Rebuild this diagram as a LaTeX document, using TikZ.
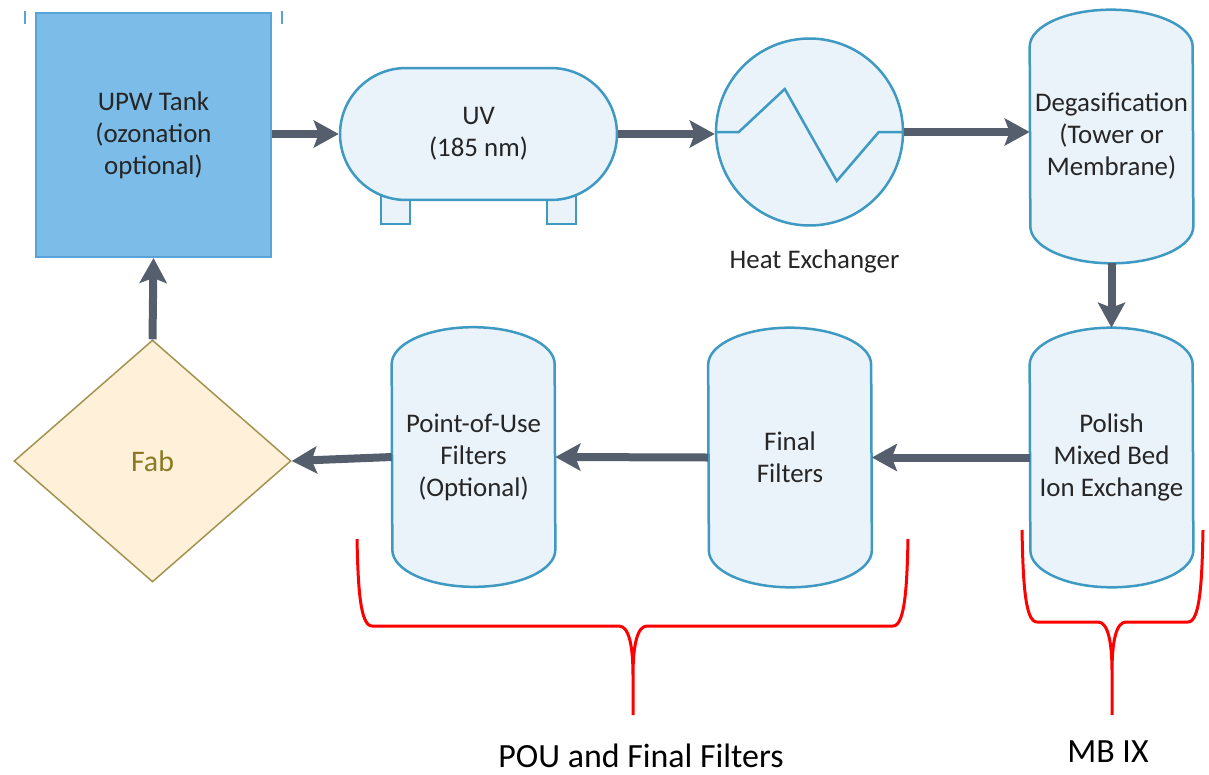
\documentclass[tikz,border=0pt]{standalone}
\usepackage{fontspec}
\setmainfont{Carlito}
\usetikzlibrary{arrows.meta,shapes.geometric,shapes.misc,positioning,calc,backgrounds}

\definecolor{tankfill}{HTML}{7BBDE8}
\definecolor{tankline}{HTML}{5AA3D8}
\definecolor{shellfill}{HTML}{EAF2FA}
\definecolor{shellline}{HTML}{3E9AC2}
\definecolor{fabfill}{HTML}{FEF0D9}
\definecolor{fabline}{HTML}{A39351}
\definecolor{fabtext}{HTML}{8B7A22}
\definecolor{pipe}{HTML}{555E6C}
\definecolor{bodytext}{HTML}{262626}

\tikzset{
  unit/.style={align=center,text=bodytext,font=\fontsize{15.3}{18.2}\selectfont,inner sep=0pt},
  tank/.style={unit,draw=tankline,fill=tankfill,line width=0.04cm,minimum width=4.7cm,minimum height=4.88cm},
  vessel/.style={unit,minimum width=3.26cm,minimum height=5.18cm},
  shell/.style={draw=shellline,fill=shellfill,line width=0.05cm},
  flow/.style={draw=pipe,line width=0.16cm,-{Stealth[length=0.5cm,width=0.54cm,inset=0.1cm]}},
  brace/.style={draw=red,line width=0.06cm},
  caption/.style={text=black,font=\fontsize{19.3}{23}\selectfont,inner sep=0pt}
}

\begin{document}
\begin{tikzpicture}[x=0.02cm,y=0.02cm]
\useasboundingbox (0,0) rectangle (1209,-774);

% top row
\node[tank] (tank) at (153.5,-135) {UPW Tank\\(ozonation\\optional)};
\node[unit,shell,rounded rectangle,minimum width=5.54cm,minimum height=2.64cm] (uv) at (478.5,-134) {UV\\(185 nm)};
\node[unit,shell,circle,minimum size=3.74cm] (hx) at (809.5,-132) {};
\node[unit,below=0.45cm of hx,xshift=0.1cm] (hxlabel) {Heat Exchanger};
\node[vessel,minimum height=5.06cm] (degas) at (1111.5,-136.5) {Degasification\\(Tower or\\Membrane)};

% bottom row
\node[vessel] (polish) at (1111.5,-457.5) {Polish\\Mixed Bed\\Ion Exchange};
\node[vessel] (final) at (790,-457.5) {Final\\Filters};
\node[vessel] (pou) at (473.5,-457) {Point-of-Use\\Filters\\(Optional)};
\node[diamond,draw=fabline,fill=fabfill,line width=0.03cm,inner sep=0pt,
      minimum width=5.54cm,minimum height=4.84cm,text=fabtext,
      font=\fontsize{17}{20}\selectfont] (fab) at (152.5,-461) {Fab};

% vessel shells and UV feet go behind the text
\begin{scope}[on background layer]
  \foreach \n in {degas,polish,final,pou}
    \draw[shell] ($(\n.north west)+(0,-37)$) arc[start angle=180,end angle=0,x radius=81.5,y radius=37]
      -- ($(\n.south east)+(0,37)$) arc[start angle=0,end angle=-180,x radius=81.5,y radius=37] -- cycle;
  \foreach \dx in {-97.5,68.5}
    \draw[shell] ($(uv.south)+(\dx,15)$) rectangle ++(29,-38);
\end{scope}

% coil inside the heat exchanger
\draw[draw=shellline,line width=0.05cm] (hx.west) -- ++(24,0) -- ++(46,43) -- ++(52,-92) -- ++(42,49) -- (hx.east);

% open top of the tank
\draw[draw=tankline,line width=0.04cm] ([xshift=-0.2cm,yshift=0.02cm]tank.north west) -- ++(0,-13);
\draw[draw=tankline,line width=0.04cm] ([xshift=0.2cm,yshift=0.02cm]tank.north east) -- ++(0,-13);

% flow
\draw[flow] (uv.west -| tank.east) -- (uv.west);
\draw[flow] (uv.east) -- (uv.east -| hx.west);
\draw[flow] (hx.east) -- (hx.east -| degas.west);
\draw[flow] (degas.south) -- (polish.north);
\draw[flow] (polish.west) -- (final.east);
\draw[flow] (final.west) -- (pou.east);
\draw[flow] (pou.west) -- (fab.east);
\draw[flow] (fab.north) -- (tank.south);

% braces
\foreach \l/\c/\r/\t/\h in {357/633/908/539/626, 1022/1112/1203/530/622}
  \draw[brace] (\l,-\t) .. controls (\l+1,-\h+40) and (\l+3,-\h) .. (\l+15,-\h) -- (\c-14,-\h)
      .. controls (\c-4,-\h) and (\c,-\h-20) .. (\c,-\h-50) -- (\c,-715)
    (\c,-\h-50) .. controls (\c,-\h-20) and (\c+4,-\h) .. (\c+14,-\h) -- (\r-15,-\h)
      .. controls (\r-3,-\h) and (\r-1,-\h+40) .. (\r,-\t);

\node[caption] (poulabel) at (641,-756) {POU and Final Filters};
\node[caption] (mblabel) at (1108,-752) {MB IX};
\end{tikzpicture}
\end{document}
